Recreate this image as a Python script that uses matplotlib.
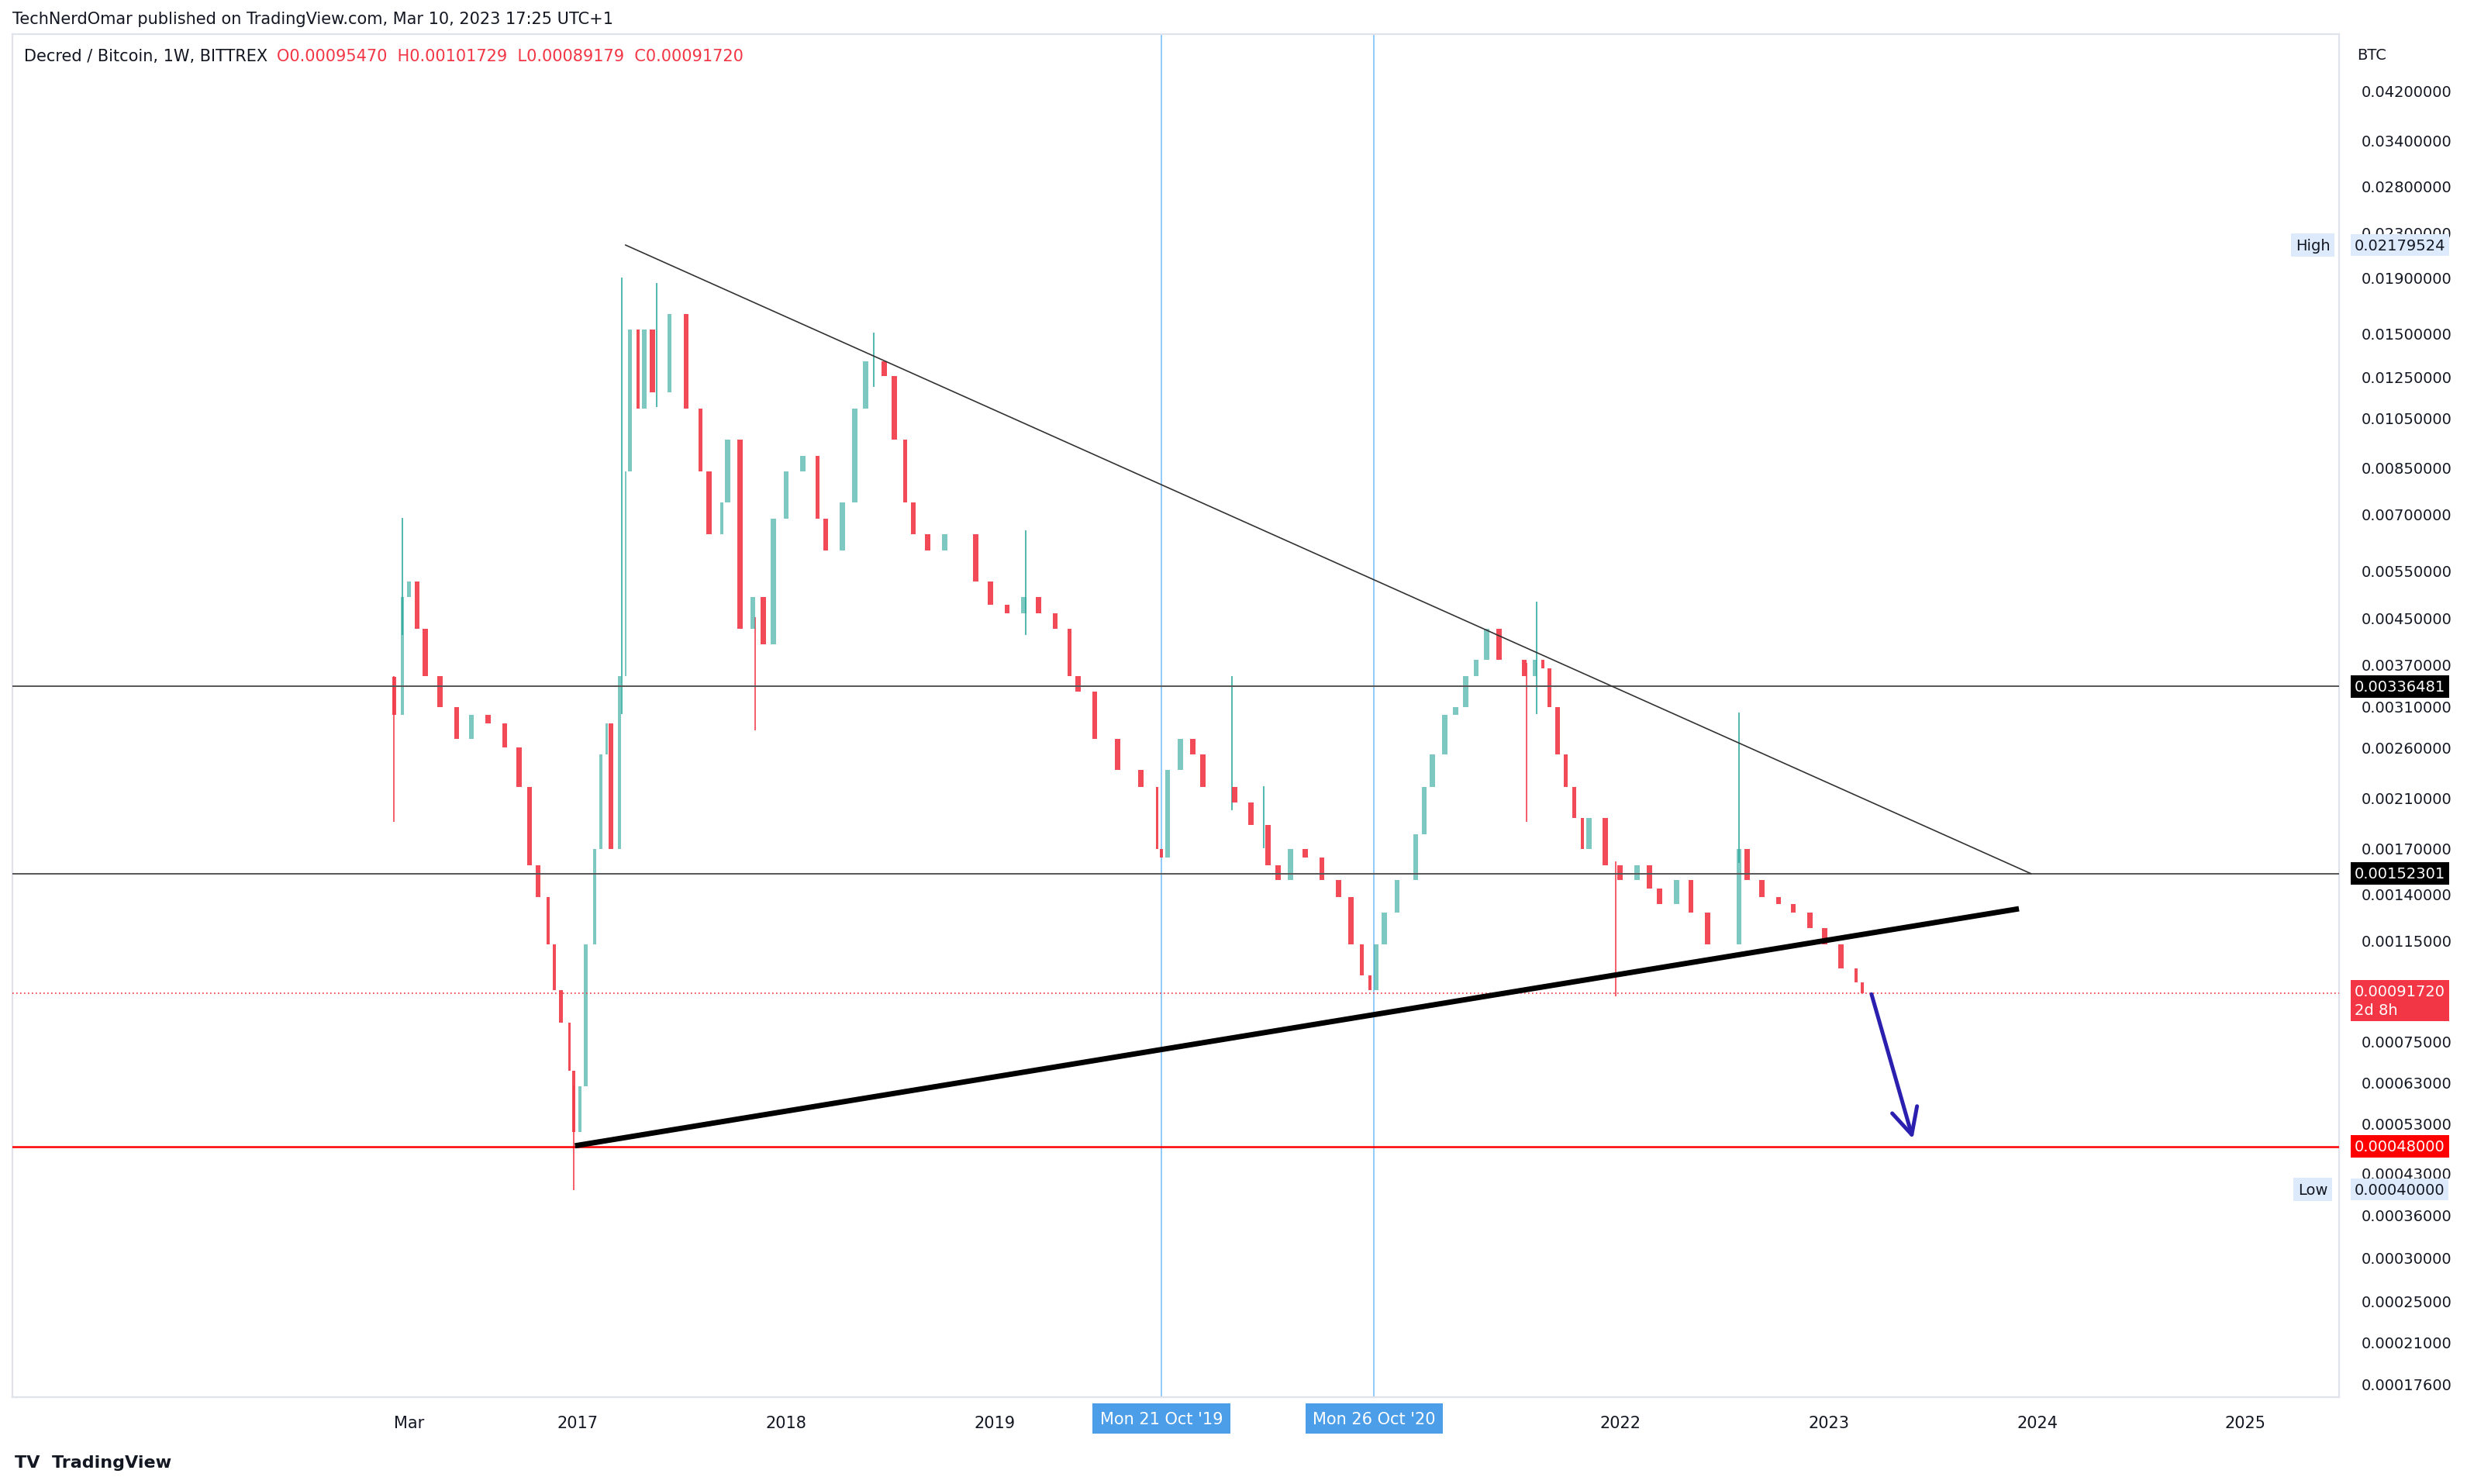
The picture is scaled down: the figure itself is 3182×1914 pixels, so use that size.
import matplotlib
matplotlib.use("Agg")
import matplotlib.pyplot as plt
import numpy as np
from matplotlib.ticker import FixedLocator, NullLocator

dates = [2016.12,2016.16,2016.19,2016.23,2016.27,2016.34,2016.42,2016.49,2016.57,2016.65,2016.72,2016.77,2016.81,2016.86,2016.89,2016.92,2016.96,2016.98,2017.01,2017.04,2017.08,2017.11,2017.14,2017.16,2017.20,2017.23,2017.25,2017.29,2017.32,2017.36,2017.44,2017.48,2017.52,2017.59,2017.63,2017.69,2017.72,2017.78,2017.84,2017.89,2017.94,2018.00,2018.08,2018.15,2018.19,2018.27,2018.33,2018.38,2018.44,2018.47,2018.52,2018.57,2018.61,2018.68,2018.76,2018.83,2018.91,2018.98,2019.06,2019.14,2019.21,2019.29,2019.36,2019.40,2019.48,2019.59,2019.70,2019.78,2019.80,2019.83,2019.89,2019.95,2020.00,2020.08,2020.15,2020.23,2020.31,2020.36,2020.42,2020.49,2020.57,2020.65,2020.71,2020.76,2020.80,2020.83,2020.87,2020.93,2020.98,2021.02,2021.06,2021.10,2021.16,2021.21,2021.26,2021.31,2021.36,2021.42,2021.48,2021.54,2021.59,2021.63,2021.66,2021.70,2021.74,2021.78,2021.82,2021.85,2021.93,2022.00,2022.08,2022.14,2022.19,2022.27,2022.34,2022.42,2022.49,2022.57,2022.61,2022.68,2022.76,2022.83,2022.91,2022.98,2023.06,2023.13,2023.16]
closes = [0.00298,0.00491,0.00525,0.00429,0.00351,0.00308,0.00269,0.00298,0.00288,0.0026,0.0022,0.00158,0.00138,0.00113,0.00093,0.00081,0.00066,0.00051,0.00062,0.00113,0.00169,0.00252,0.00288,0.00169,0.00351,0.00836,0.01524,0.01092,0.01524,0.01168,0.0163,0.0163,0.01092,0.00836,0.00641,0.00732,0.00955,0.00429,0.00491,0.00402,0.00685,0.00836,0.00894,0.00685,0.00599,0.00732,0.01092,0.01334,0.01334,0.0125,0.00955,0.00732,0.00641,0.00599,0.00641,0.00641,0.00525,0.00475,0.00459,0.00491,0.00459,0.00429,0.00351,0.00329,0.00269,0.00236,0.0022,0.00169,0.00163,0.00236,0.00269,0.00252,0.0022,0.0022,0.00206,0.00187,0.00158,0.00148,0.00169,0.00163,0.00148,0.00138,0.00113,0.00099,0.00093,0.00113,0.00129,0.00148,0.00148,0.0018,0.0022,0.00252,0.00298,0.00308,0.00351,0.00376,0.00429,0.00376,0.00376,0.00351,0.00376,0.00363,0.00308,0.00252,0.0022,0.00193,0.00169,0.00193,0.00158,0.00148,0.00158,0.00143,0.00134,0.00148,0.00129,0.00113,0.00113,0.00169,0.00148,0.00138,0.00134,0.00129,0.00121,0.00113,0.00102,0.00096,0.000917]
first_open = 0.0035
spike_dates = [2016.12,2016.16,2016.98,2017.21,2017.38,2017.85,2018.42,2019.15,2020.14,2020.29,2021.55,2021.60,2021.98,2022.57]
spike_high = [0.0035,0.00685,0.00062,0.0189,0.0185,0.0045,0.0150,0.0065,0.0035,0.0022,0.0037,0.0048,0.0016,0.0030]
spike_low = [0.0019,0.0042,0.00040,0.0030,0.0110,0.0028,0.0120,0.0042,0.0020,0.0017,0.0019,0.0030,0.00091,0.0016]

y_ticks = [0.042,0.034,0.028,0.023,0.019,0.015,0.0125,0.0105,0.0085,0.007,0.0055,0.0045,0.0037,0.0031,0.0026,0.0021,0.0017,0.0014,0.00115,0.00075,0.00063,0.00053,0.00043,0.00036,0.0003,0.00025,0.00021,0.000176]
x_tick_pos = [2016.19,2017.0,2018.0,2019.0,2022.0,2023.0,2024.0,2025.0]
x_tick_lab = ["Mar","2017","2018","2019","2022","2023","2024","2025"]

res1, res2, support = 0.00336481, 0.00152301, 0.00048
last_close = 0.0009172
upper_line = ([2017.23, 2023.97], [0.02179524, 0.00152301])
lower_line = ([2017.0, 2023.90], [0.000482, 0.00131])
arrow_pts = ([2023.20, 2023.41], [0.00093, 0.000487])
vlines = [2019.80, 2020.82]
vlabels = ["Mon 21 Oct '19", "Mon 26 Oct '20"]

GREEN = "#26a69a"; RED = "#f23645"
fig = plt.figure(figsize=(15.91, 9.575), dpi=200)
ax = fig.add_axes([0.0051, 0.0583, 0.9432, 0.9184])
ax.set_yscale("log")
ax.set_xlim(2014.29, 2025.45)
ax.set_ylim(0.0001658, 0.0533)

opens = [first_open] + closes[:-1]
for i, (d, o, c) in enumerate(zip(dates, opens, closes)):
    gap = (dates[i+1] - d) if i + 1 < len(dates) else 0.03
    w = min(max(gap * 0.5, 0.01), 0.025)
    col = GREEN if c >= o else RED
    ax.bar(d, abs(c - o), bottom=min(o, c), width=w, color=col, alpha=0.9 if col == RED else 0.6, linewidth=0, zorder=3)
for d, h, l in zip(spike_dates, spike_high, spike_low):
    ax.plot([d, d], [l, h], color=RED if d in (2016.12, 2016.98, 2017.85, 2021.55, 2021.98) else GREEN,
            lw=0.7, alpha=0.8, zorder=2)

ax.axhline(res1, color="#555555", lw=0.7, zorder=4)
ax.axhline(res2, color="#555555", lw=0.7, zorder=4)
ax.axhline(support, color="#ff0000", lw=0.9, zorder=4)
ax.axhline(last_close, color=RED, lw=0.6, ls=(0, (1, 2)), zorder=4)
for v in vlines:
    ax.axvline(v, color="#90caf9", lw=0.7, zorder=1)
ax.plot(*upper_line, color="#333333", lw=0.6, zorder=5)
ax.plot(*lower_line, color="black", lw=2.5, zorder=5)
ax.annotate("", xy=(arrow_pts[0][1], arrow_pts[1][1]), xytext=(arrow_pts[0][0], arrow_pts[1][0]),
            arrowprops=dict(arrowstyle="->,head_length=1.2,head_width=0.6", color="#2b1fb0", lw=1.8), zorder=6)

ax.yaxis.tick_right()
ax.yaxis.set_major_locator(FixedLocator(y_ticks))
ax.yaxis.set_minor_locator(NullLocator())
ax.set_yticklabels(["%.8f" % t for t in y_ticks])
ax.tick_params(axis="y", length=0, labelsize=7, labelcolor="#131722", pad=10)
ax.set_xticks(x_tick_pos)
ax.set_xticklabels(x_tick_lab)
ax.tick_params(axis="x", length=0, labelsize=7.5, labelcolor="#131722", pad=8)
for s in ax.spines.values():
    s.set_color("#e0e3eb"); s.set_linewidth(0.8)

tr = ax.get_yaxis_transform()
def tag(y, txt, fc, tc="white", x=1.0065):
    ax.text(x, y, txt, transform=tr, fontsize=7, color=tc, va="center", ha="left", linespacing=1.3,
            bbox=dict(boxstyle="square,pad=0.25", fc=fc, ec="none"), zorder=10, clip_on=False)
tag(res1, "0.00336481", "black")
tag(res2, "0.00152301", "black")
tag(support, "0.00048000", "#ff0000")
tag(last_close * 0.97, "0.00091720\n2d 8h", RED)
tag(0.02179524, "0.02179524", "#ddeafb", "#131722")
tag(0.0004, "0.00040000", "#ddeafb", "#131722")
ax.text(0.9885, 0.02179524, "High", transform=tr, fontsize=7, color="#131722", va="center", ha="center",
        bbox=dict(boxstyle="square,pad=0.3", fc="#ddeafb", ec="none"), clip_on=False)
ax.text(0.9885, 0.0004, "Low", transform=tr, fontsize=7, color="#131722", va="center", ha="center",
        bbox=dict(boxstyle="square,pad=0.3", fc="#ddeafb", ec="none"), clip_on=False)
ax.text(1.0075, 1.0 - 0.015, "BTC", transform=ax.transAxes, fontsize=7, color="#131722", va="center")

xt = ax.get_xaxis_transform()
for v, l in zip(vlines, vlabels):
    ax.text(v, -0.0155, l, transform=xt, fontsize=7.5, color="white", ha="center", va="center",
            bbox=dict(boxstyle="square,pad=0.45", fc="#4c9ee8", ec="none"), clip_on=False)

fig.text(0.005, 0.987, "TechNerdOmar published on TradingView.com, Mar 10, 2023 17:25 UTC+1",
         fontsize=7.5, color="#131722", va="center")
ax.text(0.005, 0.984, "Decred / Bitcoin, 1W, BITTREX", transform=ax.transAxes, fontsize=7.5,
        color="#131722", va="center")
ax.text(0.1135, 0.984, "O0.00095470  H0.00101729  L0.00089179  C0.00091720", transform=ax.transAxes,
        fontsize=7.5, color=RED, va="center")
fig.text(0.006, 0.0145, "TV  TradingView", fontsize=8, color="#131722", va="center", fontweight="bold")
fig.savefig("out.png", dpi=200, facecolor="white")
